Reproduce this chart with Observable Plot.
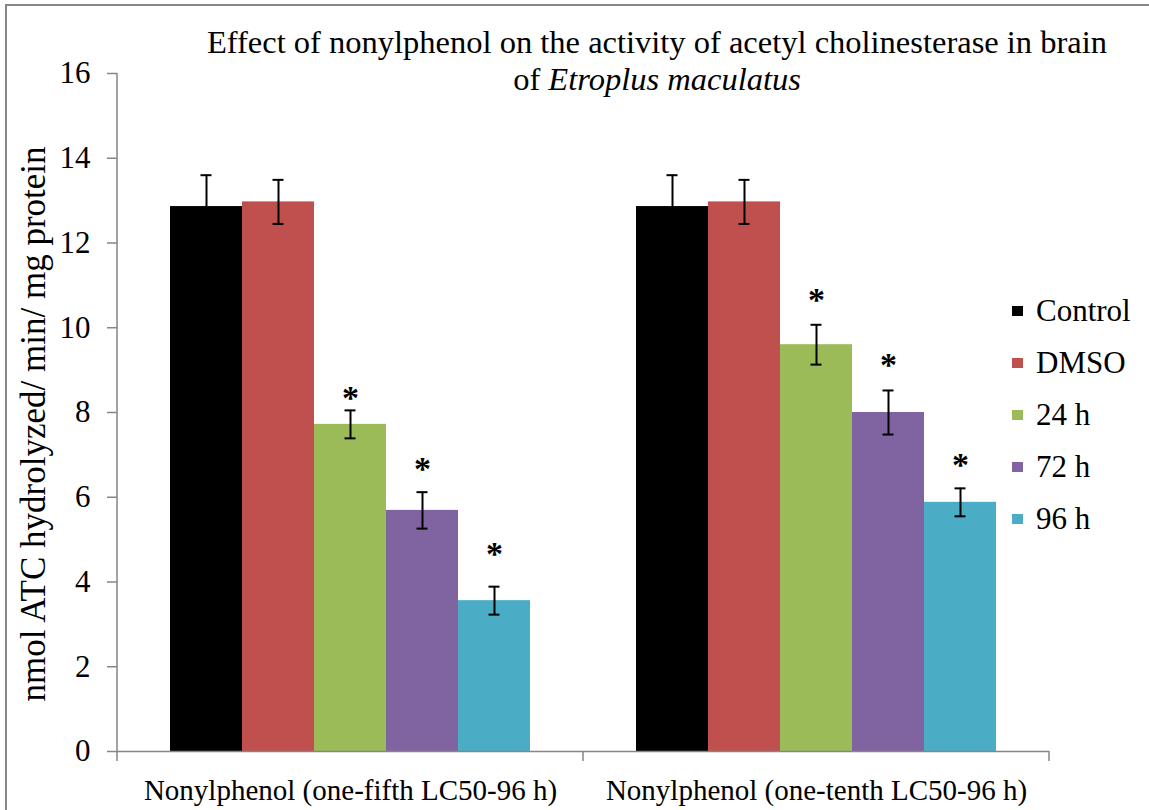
<!DOCTYPE html>
<html>
<head>
<meta charset="utf-8">
<script src="https://cdn.jsdelivr.net/npm/d3@7"></script>
<script src="https://cdn.jsdelivr.net/npm/@observablehq/plot@0.6"></script>
<style>
  html, body { margin: 0; padding: 0; background: #fff; }
  #wrap { position: relative; width: 1149px; height: 810px; overflow: hidden; background: #fff;
          font-family: "Liberation Serif", "Times New Roman", serif; color: #000; }
  #border { position: absolute; left: 5px; top: 4px; width: 1300px; height: 1000px;
            border: 2px solid #878787; box-sizing: border-box; }
  #chart { position: absolute; left: 0; top: 0; }
  #title { position: absolute; left: 0; top: 24px; width: 1314px; text-align: center;
           font-size: 32.5px; line-height: 37px; white-space: nowrap; }
  #legend { position: absolute; left: 1012px; top: 285px; }
  .lg-swatch { height: 52px; padding-bottom: 0 !important; font-size: 31px !important; }
  .lg-swatch svg { margin-right: 13px !important; }
  .lg-swatches { font-family: "Liberation Serif", "Times New Roman", serif !important; font-size: 31px !important; margin: 0 !important; }
</style>
</head>
<body>
<div id="wrap">
  <div id="border"></div>
  <div id="chart"></div>
  <div id="title">Effect of nonylphenol on the activity of acetyl cholinesterase in brain<br>of <i>Etroplus maculatus</i></div>
  <div id="legend"></div>
</div>
<script>
const groups = ["Nonylphenol (one-fifth LC50-96 h)", "Nonylphenol (one-tenth LC50-96 h)"];
const series = ["Control", "DMSO", "24 h", "72 h", "96 h"];
const colors = ["#000000", "#C0504D", "#9BBB59", "#8064A2", "#4BACC6"];

const fifthMeans = [12.86, 12.97, 7.72, 5.69, 3.56];
const fifthErr   = [0.74, 0.52, 0.33, 0.43, 0.33];
const fifthStar  = [null, null, 8.50, 6.82, 4.82];

const tenthMeans = [12.86, 12.97, 9.60, 8.00, 5.88];
const tenthErr   = [0.74, 0.52, 0.47, 0.52, 0.33];
const tenthStar  = [null, null, 10.81, 9.29, 6.93];

const yTicks = [0, 2, 4, 6, 8, 10, 12, 14, 16];
const yLabel = "nmol ATC hydrolyzed/ min/ mg protein";

const means = [fifthMeans, tenthMeans];
const errs = [fifthErr, tenthErr];
const stars = [fifthStar, tenthStar];

const rows = [];
groups.forEach((g, gi) => series.forEach((s, si) => rows.push({
  group: g, series: s, mean: means[gi][si], err: errs[gi][si], star: stars[gi][si]
})));
const starRows = rows.filter(d => d.star != null);

const font = '"Liberation Serif", "Times New Roman", serif';

const plot = Plot.plot({
  width: 1149,
  height: 810,
  marginLeft: 117,
  marginRight: 100,
  marginTop: 73,
  marginBottom: 59,
  style: { fontFamily: font, fontSize: "31px", color: "black", background: "transparent", overflow: "visible" },
  fx: { domain: groups, padding: 0, label: null },
  x: { domain: series, paddingInner: 0, paddingOuter: 0.736, axis: null },
  y: { domain: [0, 16], axis: null },
  color: { domain: series, range: colors },
  marks: [
    Plot.barY(rows, { fx: "group", x: "series", y: "mean", fill: "series" }),
    Plot.ruleX(rows, { fx: "group", x: "series", y1: d => d.mean - d.err, y2: d => d.mean + d.err, stroke: "black", strokeWidth: 2 }),
    Plot.tickY(rows, { fx: "group", x: "series", y: d => d.mean - d.err, insetLeft: 30.5, insetRight: 30.5, stroke: "black", strokeWidth: 2 }),
    Plot.tickY(rows, { fx: "group", x: "series", y: d => d.mean + d.err, insetLeft: 30.5, insetRight: 30.5, stroke: "black", strokeWidth: 2 }),
    Plot.text(starRows, { fx: "group", x: "series", y: "star", text: () => "*", fontSize: 34, fontWeight: "bold", dy: 7, fill: "black" }),
    Plot.ruleY([0], { stroke: "#868686", strokeWidth: 1.5 }),
    Plot.axisY(yTicks, { tickSize: 10, tickPadding: 17, stroke: "#868686", strokeWidth: 1.5, fill: "black", fontSize: 31, label: null }),
    Plot.axisFx({ anchor: "bottom", tickSize: 0, tickPadding: 28, fontSize: 29, label: null, fill: "black" })
  ]
});

document.getElementById("chart").appendChild(plot);

// axis decorations using the plot's own scales
const svg = d3.select(plot);
const fxS = plot.scale("fx");
const yS = plot.scale("y");
const y0 = yS.apply(0), yTop = yS.apply(16);
const xLeft = fxS.apply(groups[0]);
svg.append("line")
  .attr("x1", xLeft).attr("x2", xLeft).attr("y1", y0).attr("y2", yTop)
  .attr("stroke", "#868686").attr("stroke-width", 1.5);
const bounds = new Set();
groups.forEach(g => { bounds.add(fxS.apply(g)); bounds.add(fxS.apply(g) + fxS.bandwidth); });
bounds.forEach(bx => {
  svg.append("line")
    .attr("x1", bx).attr("x2", bx).attr("y1", y0).attr("y2", y0 + 10)
    .attr("stroke", "#868686").attr("stroke-width", 1.5);
});
svg.append("text")
  .attr("transform", `translate(33,${(y0 + yTop) / 2 + 12}) rotate(-90)`)
  .attr("text-anchor", "middle")
  .attr("dy", "0.35em")
  .attr("font-family", font)
  .attr("font-size", 35)
  .attr("fill", "black")
  .text(yLabel);

const legend = Plot.legend({
  color: { domain: series, range: colors },
  legend: "swatches",
  columns: 1,
  className: "lg",
  swatchWidth: 11,
  swatchHeight: 10
});
document.getElementById("legend").appendChild(legend);
</script>
</body>
</html>
